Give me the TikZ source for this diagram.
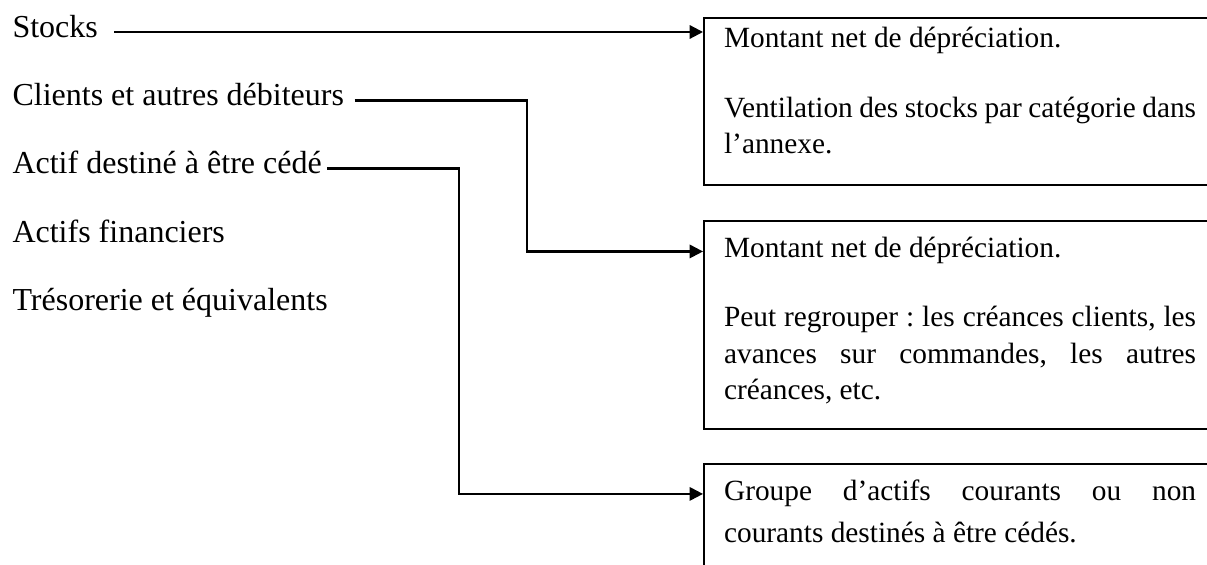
\documentclass[tikz,border=0pt]{standalone}
\usepackage{fontspec}
\setmainfont{Liberation Serif}
\usetikzlibrary{arrows.meta}
\setlength{\parindent}{0pt}
\frenchspacing
\begin{document}
\begin{tikzpicture}[x=0.375pt,y=-0.375pt,
	item/.style={anchor=west,inner sep=0pt,text height=8pt,text depth=4pt,font=\fontsize{12pt}{14pt}\selectfont},
	note/.style={draw,line width=0.8pt,anchor=north west,inner xsep=7.5pt,inner ysep=0pt,text width=177pt,align=justify,
		font=\fontsize{11pt}{13.6pt}\selectfont,execute at begin node={\setlength{\parskip}{12.6pt}}},
	link/.style={line width=0.8pt,-{Triangle[length=5pt,width=5pt]}}]
		\clip (0,0) rectangle (1207,565);
		\node[item] (stocks) at (12,32) {Stocks};
		\node[item] (clients) at (12,100.5) {Clients et autres débiteurs};
		\node[item] (actif) at (12,168.5) {Actif destiné à être cédé};
		\node[item] (financiers) at (12,237) {Actifs financiers};
		\node[item] (tresorerie) at (12,305.5) {Trésorerie et équivalents};
		\node[note,text height=11pt,text depth=51.6pt] (box1) at (703,17)
			{Montant net de dépréciation.\par Ventilation des stocks par catégorie dans\linebreak l’annexe.};
		\node[note,text height=13.5pt,text depth=64.5pt] (box2) at (703,220)
			{Montant net de dépréciation.\par Peut regrouper : les créances clients, les\linebreak avances sur commandes, les autres\linebreak créances, etc.};
		\node[note,font=\fontsize{11pt}{15.8pt}\selectfont,text height=13.7pt,text depth=40pt] (box3) at (703,463)
			{Groupe d’actifs courants ou non\linebreak courants destinés à être cédés.};
		\coordinate (from2) at ([xshift=3.8pt]clients.east);
		\coordinate (bend2) at (527,180);
		\coordinate (to2) at ([yshift=-11.8pt]box2.north west);
		\coordinate (from3) at ([xshift=1.9pt]actif.east);
		\coordinate (bend3) at (459,300);
		\coordinate (to3) at ([yshift=-11.6pt]box3.north west);
		\draw[link] ([xshift=6pt]stocks.east) -- (stocks.east -| box1.west);
		\draw[link] (from2) -- (from2 -| bend2) |- (to2);
		\draw[link] (from3) -- (from3 -| bend3) |- (to3);
	\end{tikzpicture}
\end{document}
